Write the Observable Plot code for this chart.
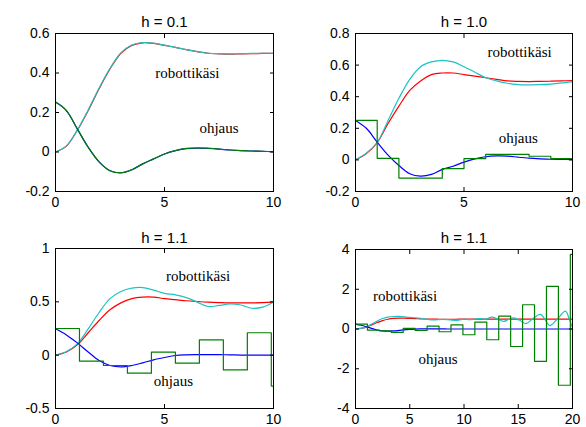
<!DOCTYPE html>
<html>
<head>
<meta charset="utf-8">
<script src="https://cdn.jsdelivr.net/npm/d3@7"></script>
<script src="https://cdn.jsdelivr.net/npm/@observablehq/plot@0.6"></script>
<style>
  html, body { margin: 0; padding: 0; background: white; }
  #wrap { position: relative; width: 586px; height: 427px; overflow: hidden; background: white; }
  .cell { position: absolute; }
</style>
</head>
<body>
<div id="wrap">
  <div class="cell" id="p1" style="left:0px;top:0px"></div>
  <div class="cell" id="p2" style="left:293px;top:0px"></div>
  <div class="cell" id="p3" style="left:0px;top:214px"></div>
  <div class="cell" id="p4" style="left:293px;top:214px"></div>
</div>
<script>
// ---------- data ----------
const titles = ["h = 0.1", "h = 1.0", "h = 1.1", "h = 1.1"];
const armLabel = "robottikäsi";
const ctrlLabel = "ohjaus";

// common time samples (0..10 by 0.5)
const tA = [0,0.5,1,1.5,2,2.5,3,3.5,4,4.5,5,5.5,6,6.5,7,7.5,8,8.5,9,9.5,10];

// plot 1, h = 0.1
const red1  = [0,0.03,0.11,0.21,0.32,0.42,0.50,0.54,0.553,0.55,0.54,0.53,0.518,0.508,0.50,0.497,0.495,0.497,0.498,0.499,0.50];
const cyan1 = [0,0.031,0.111,0.213,0.324,0.424,0.502,0.542,0.554,0.551,0.541,0.53,0.518,0.508,0.50,0.498,0.497,0.498,0.499,0.50,0.50];
const blue1 = [0.253,0.21,0.117,0.024,-0.05,-0.095,-0.105,-0.09,-0.06,-0.035,-0.01,0.007,0.017,0.019,0.018,0.015,0.01,0.007,0.005,0.003,0.002];
const green1= [0.253,0.21,0.117,0.024,-0.05,-0.095,-0.106,-0.09,-0.06,-0.035,-0.01,0.007,0.018,0.021,0.019,0.015,0.01,0.007,0.005,0.003,0.002];

// plot 2, h = 1.0
const red2  = [0,0.04,0.11,0.23,0.34,0.44,0.50,0.54,0.55,0.55,0.54,0.53,0.52,0.51,0.50,0.497,0.496,0.497,0.498,0.50,0.502];
const cyan2 = [0,0.043,0.11,0.25,0.39,0.51,0.59,0.62,0.63,0.62,0.59,0.555,0.52,0.50,0.485,0.477,0.475,0.476,0.48,0.487,0.496];
const blue2 = [0.25,0.2,0.112,0.03,-0.035,-0.088,-0.103,-0.092,-0.06,-0.04,-0.014,0.006,0.02,0.025,0.024,0.017,0.011,0.007,0.004,0.003,0.002];
const stepT2 = [0,1,2,3,4,5,6,7,8,9,10];
const green2 = [0.25,0.01,-0.115,-0.115,-0.055,0.008,0.035,0.035,0.023,0.008,0.008];

// plot 3, h = 1.1
const red3  = [0,0.03,0.097,0.21,0.325,0.425,0.49,0.53,0.544,0.544,0.53,0.52,0.51,0.503,0.497,0.493,0.49,0.49,0.49,0.493,0.497];
const cyan3 = [0,0.034,0.106,0.247,0.40,0.53,0.597,0.628,0.634,0.61,0.58,0.566,0.54,0.497,0.456,0.466,0.48,0.47,0.44,0.45,0.497];
const blue3 = [0.247,0.19,0.115,0.03,-0.05,-0.097,-0.11,-0.097,-0.072,-0.044,-0.022,-0.003,0.003,0.005,0.006,0.005,0.003,0.001,0,0,0];
const stepT3 = [0,1.1,2.2,3.3,4.4,5.5,6.6,7.7,8.8,9.9,10];
const green3 = [0.25,-0.056,-0.097,-0.169,0.028,-0.075,0.144,-0.138,0.21,-0.29,-0.29];

// plot 4, h = 1.1, longer horizon (continues plot 3)
const tB_tail    = [10.5,11,11.5,12,12.5,13,13.5,14,14.5,15,15.5,16,16.5,17,17.5,18,18.5,19,19.5,20];
const red4_tail  = [0.497,0.5,0.5,0.5,0.5,0.5,0.5,0.5,0.5,0.5,0.5,0.5,0.5,0.5,0.5,0.5,0.5,0.5,0.5,0.5];
const blue4_tail = [0,0,0,0,0,0,0,0,0,0,0,0,0,0,0,0,0,0,0,0];
const cyanT4_tail = [10.5,11,11.5,12,12.6,13.1,13.65,14.1,14.6,15.1,15.7,16.3,17.05,17.5,17.9,18.6,19.35,19.7,20];
const cyan4_tail  = [0.47,0.5,0.52,0.5,0.6,0.5,0.38,0.48,0.56,0.45,0.27,0.5,0.74,0.45,0.17,0.5,0.9,0.5,0.05];
const stepT4_tail = [11,12.1,13.2,14.3,15.4,16.5,17.6,18.7,19.8,20];
const green4_tail = [0.35,-0.54,0.65,-0.88,1.22,-1.63,2.14,-2.83,3.75,3.75];

// axes ticks
const xTicks10 = [0,5,10];
const xTicks20 = [0,5,10,15,20];
const yTicks1 = [-0.2,0,0.2,0.4,0.6];
const yTicks2 = [-0.2,0,0.2,0.4,0.6,0.8];
const yTicks3 = [-0.5,0,0.5,1];
const yTicks4 = [-4,-2,0,2,4];

// colours
const C_RED = "#ff0000", C_CYAN = "#1cc3c3", C_BLUE = "#0000ff", C_GREEN = "#008000";

// ---------- helpers ----------
const pts = (ts, vs) => ts.map((t, i) => ({t, v: vs[i]}));

function panel(el, cfg) {
  const smooth = (d, c, w) => Plot.line(d, {x: "t", y: "v", stroke: c, strokeWidth: w, curve: "catmull-rom"});
  const marks = [
    smooth(cfg.red, C_RED, 1.2),
    smooth(cfg.cyan, C_CYAN, 1.2),
    smooth(cfg.blue, C_BLUE, 1.2),
    cfg.greenStep
      ? Plot.line(cfg.green, {x: "t", y: "v", stroke: C_GREEN, strokeWidth: 1.2, curve: "step-after"})
      : smooth(cfg.green, C_GREEN, 1.2),
    Plot.frame({stroke: "black", strokeWidth: 1}),
    // labels
    Plot.axisY(cfg.yTicks, {tickSize: 0, tickPadding: 6, tickFormat: d => String(d), fontSize: 14, label: null}),
    Plot.axisY(cfg.yTicks, {tickSize: 4, dx: 4, fill: "none", label: null}),
    Plot.axisY(cfg.yTicks, {anchor: "right", tickSize: 4, dx: -4, fill: "none", label: null}),
    Plot.axisX(cfg.xTicks, {tickSize: 0, tickPadding: 6, tickFormat: d => String(d), fontSize: 14, label: null}),
    Plot.axisX(cfg.xTicks, {tickSize: 4, dy: -4, fill: "none", label: null}),
    Plot.axisX(cfg.xTicks, {anchor: "top", tickSize: 4, dy: 4, fill: "none", label: null}),
    Plot.text([cfg.title], {frameAnchor: "top", dy: cfg.titleDy, fontSize: 15, fill: "black"}),
    Plot.text([{t: cfg.armPos[0], v: cfg.armPos[1], s: armLabel}], {x: "t", y: "v", text: "s", fontFamily: "Liberation Serif", fontSize: 15, fill: "black"}),
    Plot.text([{t: cfg.ctrlPos[0], v: cfg.ctrlPos[1], s: ctrlLabel}], {x: "t", y: "v", text: "s", fontFamily: "Liberation Serif", fontSize: 15, fill: "black"})
  ];
  const chart = Plot.plot({
    width: cfg.width, height: cfg.height,
    marginLeft: cfg.ml, marginRight: cfg.mr, marginTop: cfg.mt, marginBottom: cfg.mb,
    x: {domain: cfg.xDomain, label: null},
    y: {domain: cfg.yDomain, label: null},
    style: {fontFamily: "Liberation Sans, Arial, sans-serif", fontSize: "14px", background: "white", color: "black", overflow: "visible"},
    marks
  });
  el.appendChild(chart);
}

panel(document.getElementById("p1"), {
  width: 293, height: 214, ml: 55, mr: 20, mt: 33, mb: 23, titleDy: -17,
  xDomain: [0, 10], yDomain: [-0.2, 0.6], xTicks: xTicks10, yTicks: yTicks1, title: titles[0],
  red: pts(tA, red1), cyan: pts(tA, cyan1), blue: pts(tA, blue1), green: pts(tA, green1), greenStep: false,
  armPos: [6.05, 0.4], ctrlPos: [7.5, 0.12]
});
panel(document.getElementById("p2"), {
  width: 293, height: 214, ml: 62, mr: 14, mt: 33, mb: 23, titleDy: -17,
  xDomain: [0, 10], yDomain: [-0.2, 0.8], xTicks: xTicks10, yTicks: yTicks2, title: titles[1],
  red: pts(tA, red2), cyan: pts(tA, cyan2), blue: pts(tA, blue2), green: pts(stepT2, green2), greenStep: true,
  armPos: [7.56, 0.68], ctrlPos: [7.5, 0.14]
});
panel(document.getElementById("p3"), {
  width: 293, height: 213, ml: 55, mr: 20, mt: 34, mb: 19, titleDy: -16,
  xDomain: [0, 10], yDomain: [-0.5, 1], xTicks: xTicks10, yTicks: yTicks3, title: titles[2],
  red: pts(tA, red3), cyan: pts(tA, cyan3), blue: pts(tA, blue3), green: pts(stepT3, green3), greenStep: true,
  armPos: [6.54, 0.74], ctrlPos: [5.41, -0.244]
});
panel(document.getElementById("p4"), {
  width: 293, height: 213, ml: 62, mr: 14, mt: 35, mb: 19, titleDy: -17,
  xDomain: [0, 20], yDomain: [-4, 4], xTicks: xTicks20, yTicks: yTicks4, title: titles[3],
  red: pts(tA.concat(tB_tail), red3.concat(red4_tail)),
  cyan: pts(tA.concat(cyanT4_tail), cyan3.concat(cyan4_tail)),
  blue: pts(tA.concat(tB_tail), blue3.concat(blue4_tail)),
  green: pts(stepT3.slice(0, 10).concat(stepT4_tail), green3.slice(0, 10).concat(green4_tail)), greenStep: true,
  armPos: [4.56, 1.65], ctrlPos: [7.6, -1.53]
});
</script>
</body>
</html>
